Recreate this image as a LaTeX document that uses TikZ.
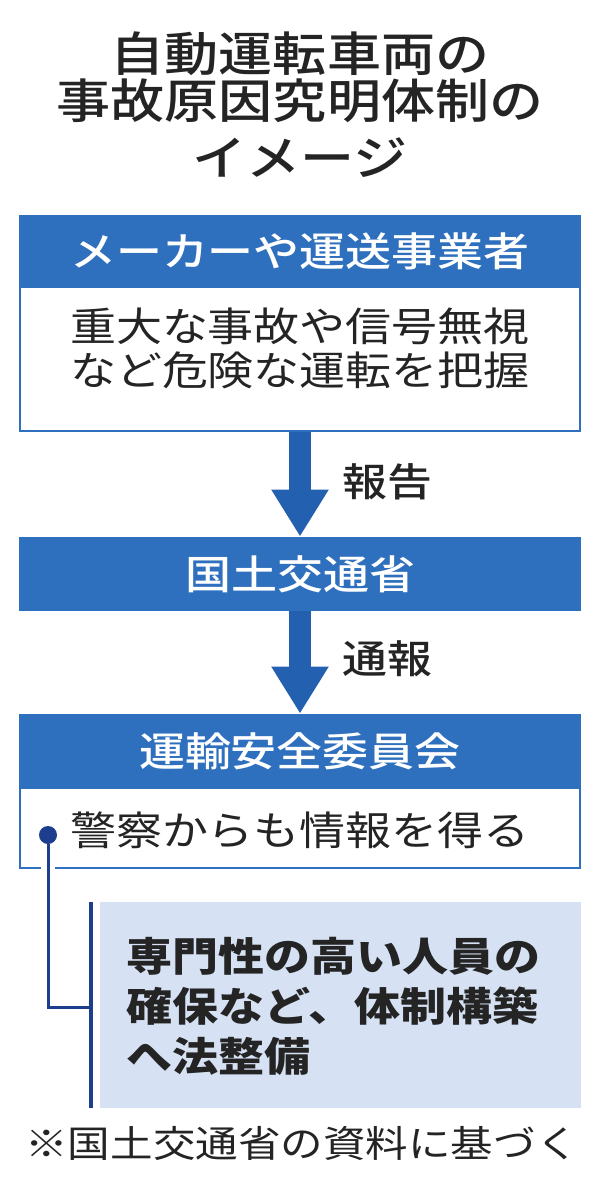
\documentclass[tikz,border=0pt]{standalone}
\usepackage{fontspec}
\setmainfont{Noto Sans CJK JP}[FakeStretch=1.15]
\IfFontExistsTF{Noto Sans CJK JP Medium}
  {\newfontfamily\midfont{Noto Sans CJK JP Medium}[FakeStretch=1.15]}
  {\newcommand\midfont{\bfseries}}
\usetikzlibrary{arrows.meta}

\definecolor{headblue}{RGB}{46,112,189}
\definecolor{arrowblue}{RGB}{36,96,176}
\definecolor{linkblue}{RGB}{28,62,140}
\definecolor{paleblue}{RGB}{214,226,243}
\definecolor{inkgray}{RGB}{36,36,36}

\tikzset{
  titletext/.style={text=inkgray, inner sep=0pt, font=\fontsize{23.5pt}{28pt}\selectfont\midfont},
  headbox/.style={fill=headblue, text=white, minimum width=281pt, inner sep=0pt, font=\fontsize{20pt}{24pt}\selectfont\midfont},
  bodybox/.style={draw=headblue, line width=1pt, fill=white, minimum width=280pt, inner sep=0pt},
  bodytext/.style={text=inkgray, align=center, inner sep=0pt, font=\fontsize{20pt}{22pt}\selectfont},
  flow/.style={draw=arrowblue, line width=11pt, -{Triangle[width=27pt,length=23.5pt]}},
  flowlabel/.style={text=inkgray, inner sep=0pt, font=\fontsize{19.5pt}{22pt}\selectfont\midfont},
  link/.style={draw=linkblue, line width=1.5pt, preaction={draw=white, line width=7pt}},
  barline/.style={draw=linkblue, line width=2pt},
}

\begin{document}
\begin{tikzpicture}[x=0.5pt, y=-0.5pt]
    \useasboundingbox (0,0) rectangle (600,1200);

    % title
    \node[titletext] (title1) at (300,54) {自動運転車両の};
    \node[titletext] (title2) at (300,101) {事故原因究明体制の};
    \node[titletext] (title3) at (300,158) {イメージ};

    % makers
    \node[bodybox, minimum height=72pt] (bd1) at (300,359) {};
    \node[headbox, minimum height=36pt] (hd1) at (300,251) {メーカーや運送事業者};
    \node[bodytext] (tx1) at (300,348) {重大な事故や信号無視\\など危険な運転を把握};

    % ministry
    \node[headbox, minimum height=37pt] (hd2) at (300,574) {国土交通省};

    % board
    \node[bodybox, minimum height=40pt] (bd3) at (300,828) {};
    \node[headbox, minimum height=37pt] (hd3) at (300,751) {運輸安全委員会};
    \node[bodytext] (tx3) at (300,830) {警察からも情報を得る};

    \draw[flow] (bd1.south) -- (hd2.north);
    \node[flowlabel] (lb1) at (387,482) {報告};
    \draw[flow] (hd2.south) -- (hd3.north);
    \node[flowlabel] (lb2) at (387,659) {通報};

    % law
    \node[fill=paleblue, minimum width=240.5pt, minimum height=103pt, inner sep=0pt] (pale) at (340.5,1005) {};
    \node[anchor=west, align=left, inner sep=0pt, text=inkgray,
          font=\fontsize{20pt}{25pt}\selectfont\bfseries] (tx4) at (126,1006)
          {専門性の高い人員の\\確保など、体制構築\\へ法整備};

    \node[circle, fill=linkblue, minimum size=9pt, inner sep=0pt] (dot) at (48,835) {};
    \coordinate (joint) at (91,1007);
    \draw[link] (dot) |- (joint);
    \draw[barline] ([xshift=-4.5pt]pale.north west) -- ([xshift=-4.5pt]pale.south west);

    % source
    \node[text=inkgray, inner sep=0pt, font=\fontsize{18.5pt}{22pt}\selectfont] (src) at (302,1143) {※国土交通省の資料に基づく};
\end{tikzpicture}
\end{document}
